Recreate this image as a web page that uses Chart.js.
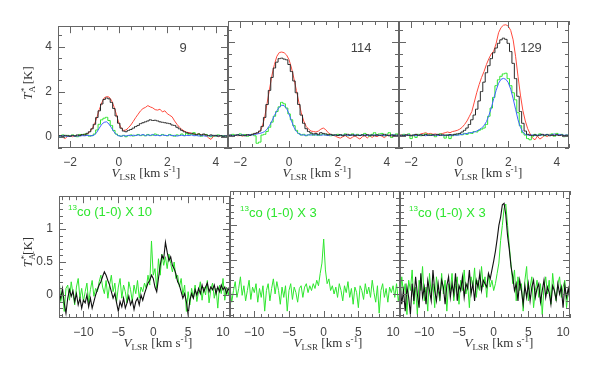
<!DOCTYPE html>
<html>
<head>
<meta charset="utf-8">
<script src="https://cdn.jsdelivr.net/npm/chart.js@4.4.1/dist/chart.umd.min.js"></script>
<style>
  body { margin: 0; background: #fff; width: 589px; height: 368px; position: relative; overflow: hidden; }
  canvas { position: absolute; }
  .txt { position: absolute; white-space: nowrap; color: #333; font-family: "Liberation Serif", serif; z-index: 5; }
  .ctr { transform: translate(-50%, -50%); }
  .rot { transform: translate(-50%, -50%) rotate(-90deg); }
  .ax { font-size: 13px; }
  .ax sub, .ax sup { font-size: 9px; }
  .num { font-family: "Liberation Sans", sans-serif; font-size: 13px; color: #444; }
  .co { font-family: "Liberation Sans", sans-serif; font-size: 13px; color: #2ee62e; transform: translateY(-50%); }
  .co sup { font-size: 8px; }
</style>
</head>
<body>
<script>
// channel axes
const topVelStart = -2.5, topVelStep = 0.1;
const botVelStart = -13.5, botVelStep = 0.25;

// tick labels
const topXTicks = [-2, 0, 2, 4];
const topYTicks = [0, 2, 4];
const botXTicks = [-10, -5, 0, 5, 10];
const botYTicks = [0, 0.5, 1];

const panelNumbers = ['9', '114', '129'];
const coLabels = ['co (1-0) X 10', 'co (1-0) X 3', 'co (1-0) X 3'];

// upper row spectra (T_A* in K)
const red9 = [0.02,0.05,-0.03,-0.08,0.03, 0.05,0.0,0.06,0.02,0.08, 0.05,0.1,0.12,0.2,0.35,
  0.55,0.85,1.2,1.5,1.72, 1.78,1.76,1.62,1.35,1.0, 0.62,0.38,0.28,0.3,0.4,
  0.52,0.68,0.85,1.0,1.15, 1.25,1.3,1.38,1.32,1.28, 1.2,1.18,1.22,1.1,1.15,
  1.02,0.95,0.88,0.7,0.55, 0.42,0.32,0.25,0.2,0.18, 0.15,0.12,0.1,0.14,0.08,
  0.1,0.05,-0.05,-0.12,0.02, 0.05,0.0,0.04,-0.02,0.03, 0.0];
const black9 = [0.03,0.05,0.02,0.06,0.04, 0.02,0.06,0.03,0.08,0.05, 0.1,0.08,0.15,0.22,0.35,
  0.55,0.85,1.15,1.45,1.65, 1.72,1.68,1.52,1.25,0.92, 0.6,0.38,0.25,0.22,0.28,
  0.32,0.38,0.45,0.5,0.58, 0.62,0.66,0.7,0.75,0.72, 0.73,0.7,0.66,0.64,0.62,
  0.6,0.58,0.52,0.5,0.42, 0.35,0.28,0.22,0.18,0.15, 0.15,0.12,0.1,0.12,0.08,
  0.12,0.08,0.05,0.08,0.04, 0.06,0.03,0.05,0.02,0.04, 0.02];
const green9 = [0.05,0.0,0.08,0.03,0.06, 0.02,0.08,0.05,0.0,0.1, 0.06,0.12,0.08,0.02,0.05,
  0.12,0.3,0.55,0.75,0.82, 0.86,0.72,0.5,0.28,0.12, 0.05,0.02,0.06,0.0,0.05,
  0.08,0.03,0.06,0.1,0.05, 0.08,0.04,0.1,0.05,0.07, 0.12,0.08,0.05,0.1,0.06,
  0.04,0.1,0.06,0.02,0.08, 0.06,0.12,0.05,0.15,0.08, 0.1,0.18,0.05,0.12,0.02,
  0.08,0.1,0.04,0.0,0.06, 0.02,0.08,0.03,0.05,0.0, 0.04];
const blue9 = [0.04,0.02,0.05,0.03,0.01, 0.03,0.05,0.02,0.04,0.03, 0.05,0.04,0.06,0.05,0.04,
  0.08,0.2,0.38,0.55,0.64, 0.66,0.56,0.4,0.22,0.1, 0.04,0.02,0.05,0.03,0.06,
  0.04,0.07,0.05,0.08,0.06, 0.1,0.05,0.08,0.06,0.1, 0.05,0.07,0.04,0.08,0.06,
  0.05,0.08,0.04,0.06,0.03, 0.05,0.07,0.04,0.06,0.05, 0.08,0.04,0.06,0.03,0.05,
  0.04,0.02,0.05,0.03,0.06, 0.04,0.03,0.05,0.02,0.04, 0.03];

const red114 = [0.0,0.03,-0.02,0.05,0.02, 0.04,0.0,0.06,0.03,0.05, 0.08,0.1,0.12,0.2,0.4,
  0.8,1.4,2.0,2.6,3.05, 3.4,3.56,3.58,3.55,3.45, 3.25,2.9,2.45,1.95,1.45,
  1.0,0.65,0.42,0.3,0.22, 0.2,0.18,0.22,0.3,0.35, 0.28,0.15,0.08,0.05,0.0,
  -0.05,-0.08,-0.02,0.03,-0.05, -0.1,-0.04,0.02,-0.06,-0.12, -0.02,0.04,-0.08,0.02,-0.05,
  0.03,-0.02,0.05,0.0,-0.06, 0.02,0.06,-0.03,0.04,0.0, 0.02];
const black114 = [0.02,0.05,0.0,0.04,0.06, 0.03,0.05,0.02,0.07,0.04, 0.08,0.12,0.15,0.22,0.42,
  0.8,1.35,1.95,2.5,2.9, 3.15,3.3,3.32,3.28,3.25, 3.05,2.75,2.35,1.85,1.35,
  0.9,0.55,0.32,0.2,0.14, 0.1,0.12,0.08,0.15,0.12, 0.1,0.06,0.08,0.04,0.06,
  0.03,0.07,0.02,0.05,0.08, 0.04,0.06,0.02,0.05,0.03, 0.06,0.02,0.07,0.04,0.05,
  0.02,0.06,0.03,0.05,0.08, 0.04,0.02,0.06,0.03,0.05, 0.03];
const green114 = [0.05,0.02,0.08,0.04,0.06, 0.1,0.03,0.07,0.0,0.05, 0.08,0.02,-0.3,-0.25,0.05,
  0.08,0.2,0.38,0.6,0.85, 1.05,1.25,1.44,1.38,1.2, 0.95,0.7,0.45,0.25,0.12,
  0.05,0.08,0.02,0.06,0.1, 0.04,0.08,0.03,0.06,0.1, 0.05,0.08,0.02,0.06,0.04,
  0.08,0.03,0.05,0.1,0.02, 0.06,0.1,0.04,0.08,0.03, 0.07,0.12,0.05,0.0,0.08,
  0.15,0.05,0.1,0.12,0.02, 0.08,0.15,-0.05,0.06,0.1, 0.04];
const blue114 = [0.03,0.05,0.02,0.04,0.06, 0.04,0.06,0.03,0.05,0.07, 0.05,0.08,0.1,0.12,0.15,
  0.2,0.3,0.45,0.65,0.88, 1.08,1.24,1.32,1.3,1.18, 0.95,0.65,0.38,0.2,0.1,
  0.06,0.05,0.04,0.06,0.05, 0.07,0.05,0.06,0.04,0.06, 0.05,0.03,0.06,0.04,0.05,
  0.03,0.05,0.04,0.06,0.03, 0.05,0.04,0.06,0.03,0.05, 0.04,0.06,0.03,0.05,0.04,
  0.06,0.03,0.05,0.04,0.02, 0.05,0.03,0.04,0.06,0.03, 0.04];

const red129 = [0.02,0.05,0.0,0.06,0.03, 0.05,0.02,0.08,0.04,0.1, 0.12,0.15,0.1,0.12,0.08,
  0.1,0.06,0.1,0.12,0.15, 0.18,0.15,0.2,0.22,0.25, 0.3,0.38,0.5,0.65,0.85,
  1.05,1.45,1.85,2.2,2.5, 2.75,3.05,3.3,3.5,3.62, 3.95,4.4,4.62,4.72,4.74,
  4.68,4.5,4.1,3.4,2.55, 1.75,1.1,0.65,0.32,0.1, -0.08,-0.15,0.0,-0.12,-0.05,
  0.05,-0.02,0.08,0.02,0.05, 0.08,0.03,0.06,0.0,0.04, 0.02];
const black129 = [0.03,0.05,0.02,0.06,0.04, 0.02,0.05,0.08,0.04,0.06, 0.03,0.07,0.05,0.04,0.06,
  0.05,0.08,0.04,0.06,0.05, 0.04,0.07,0.05,0.08,0.1, 0.12,0.18,0.25,0.35,0.5,
  0.7,0.9,1.15,1.5,1.9, 2.3,2.7,3.0,3.3,3.55, 3.75,3.95,4.1,4.17,4.12,
  3.95,3.6,3.1,2.45,1.7, 1.05,0.55,0.22,0.08,0.05, 0.03,0.06,0.02,0.05,0.08,
  0.04,0.06,0.02,0.05,0.03, 0.06,0.03,0.05,0.02,0.04, 0.03];
const green129 = [0.05,0.0,0.08,0.03,0.1, -0.1,0.05,-0.05,0.08,0.02, 0.06,0.1,0.03,0.08,0.05,
  -0.02,0.05,0.1,0.04,-0.08, 0.06,-0.1,0.02,0.08,0.05, 0.1,0.06,0.12,0.08,0.15,
  0.12,0.2,0.18,0.25,0.3, 0.35,0.5,0.85,1.2,1.65, 2.15,2.4,2.55,2.65,2.68,
  2.45,2.15,1.85,1.55,1.0, 0.45,0.15,0.05,-0.1,-0.15, 0.0,0.08,0.03,0.1,0.05,
  0.02,0.08,0.05,0.1,0.0, 0.12,0.05,0.08,-0.02,0.05, 0.03];
const blue129 = [0.04,0.02,0.05,0.03,0.06, 0.03,0.05,0.02,0.04,0.06, 0.04,0.02,0.05,0.03,0.04,
  0.06,0.03,0.05,0.04,0.02, 0.05,0.03,0.06,0.04,0.05, 0.06,0.08,0.1,0.12,0.14,
  0.16,0.18,0.22,0.28,0.35, 0.45,0.62,0.88,1.2,1.6, 1.95,2.25,2.42,2.46,2.42,
  2.28,2.0,1.6,1.15,0.7, 0.38,0.18,0.08,0.05,0.04, 0.06,0.03,0.05,0.04,0.06,
  0.05,0.08,0.04,0.06,0.1, 0.05,0.08,0.06,0.04,0.05, 0.04];

// lower row: 13CO (1-0) scaled (green) and comparison line (black)
const lowBlack9 = [0.05,-0.05,0.1,-0.12,-0.28, -0.05,0.08,-0.02,0.06,-0.1, 0.02,-0.15,-0.05,-0.2,-0.08,
  -0.12,0.0,-0.18,-0.05,-0.2, -0.1,0.0,0.08,0.15,0.2, 0.28,0.35,0.3,0.22,0.15,
  0.05,-0.05,0.02,-0.12,-0.25, -0.1,-0.18,-0.05,-0.2,-0.12, -0.02,-0.15,-0.08,-0.22,-0.1,
  -0.05,-0.15,0.0,-0.08,0.02, 0.1,0.18,0.22,0.3,0.25, 0.12,0.05,0.25,0.45,0.6,
  0.55,0.8,0.65,0.52,0.58, 0.45,0.4,0.32,0.2,0.15, 0.05,-0.05,0.02,-0.1,-0.3,
  -0.08,0.02,-0.05,0.08,0.0, 0.1,0.02,0.15,0.05,0.12, 0.18,0.05,0.12,0.08,0.15,
  0.02,0.12,0.05,0.15,0.08, 0.12,0.02,0.1,0.05];
const lowGreen9 = [0.28,-0.1,0.05,-0.25,0.1, 0.15,-0.08,0.2,0.02,-0.15, 0.12,0.25,-0.05,0.1,-0.1,
  0.05,0.18,-0.12,0.08,0.22, -0.02,0.1,0.05,0.2,0.3, 0.12,0.02,0.22,-0.05,0.15,
  0.3,0.05,0.18,-0.1,0.12, 0.25,-0.05,0.15,0.05,-0.12, 0.2,0.08,-0.1,0.15,0.02,
  0.22,-0.05,0.12,0.05,0.18, 0.1,0.3,0.15,0.82,0.3, 0.4,0.1,0.55,0.3,0.62,
  0.45,0.58,0.4,0.62,0.48, 0.35,0.5,0.25,0.3,0.12, 0.25,0.0,0.15,-0.25,0.05,
  -0.15,0.1,-0.05,0.15,-0.1, 0.05,0.2,-0.08,0.12,0.0, 0.22,-0.12,0.08,0.18,-0.05,
  0.1,-0.2,0.15,0.02,0.25, -0.08,0.12,0.0,0.15];
const lowGreen114 = [0.1,-0.12,0.05,0.18,-0.05, 0.08,0.25,-0.02,0.12,-0.1, 0.05,0.2,-0.08,0.1,0.02,
  0.15,-0.12,0.08,-0.05,0.12, -0.25,0.05,0.15,-0.1,0.08, 0.22,0.0,0.18,0.05,-0.15,
  0.1,-0.05,0.12,-0.25,0.05, 0.15,-0.08,0.1,0.02,-0.12, 0.08,0.12,-0.05,0.1,0.15,
  0.02,0.12,0.05,0.15,0.08, 0.2,0.12,0.3,0.45,0.8, 0.35,0.15,0.22,0.05,0.12,
  0.0,0.1,-0.05,0.15,0.05, -0.1,0.12,0.02,0.18,-0.05, 0.08,-0.15,0.1,0.02,-0.2,
  0.12,0.05,-0.08,0.15,0.0, 0.1,-0.05,0.2,0.02,-0.12, 0.12,-0.28,0.05,0.15,-0.05,
  0.08,-0.12,0.1,0.02,0.12, -0.05,0.15,-0.1,0.05];
const lowBlack129 = [0.2,-0.15,0.05,-0.25,0.1, -0.05,-0.3,0.15,-0.1,0.25, 0.0,-0.2,0.3,-0.05,0.1,
  -0.15,0.2,0.05,-0.1,0.35, 0.05,-0.1,0.15,-0.05,0.2, 0.1,-0.15,0.12,0.25,-0.05,
  0.15,0.0,0.3,-0.1,0.12, 0.05,0.25,-0.05,0.15,0.08, 0.35,0.0,0.15,-0.1,0.2,
  0.1,0.3,0.05,0.2,0.15, 0.1,0.3,0.22,0.35,0.48, 0.62,0.8,1.0,1.12,1.3,
  1.32,1.15,0.85,0.65,0.4, 0.25,0.05,0.15,-0.1,0.2, 0.05,-0.15,0.12,-0.05,0.15,
  -0.1,0.1,0.2,-0.05,0.08, 0.15,-0.12,0.05,0.2,-0.05, 0.1,0.02,-0.15,0.12,0.05,
  -0.08,0.15,0.0,0.1,-0.2, 0.12,-0.05,0.08,-0.1];
const lowGreen129 = [-0.1,0.25,0.0,0.15,-0.3, 0.2,0.05,0.35,-0.15,0.1, -0.3,0.2,0.05,0.4,-0.1,
  0.1,-0.25,0.3,0.0,0.15, -0.2,0.25,0.05,-0.1,0.3, 0.0,0.2,-0.25,0.15,0.05,
  0.3,-0.1,0.12,0.25,-0.15, 0.2,0.05,0.35,0.0,0.15, -0.2,0.25,0.1,0.38,-0.05,
  0.2,0.05,0.4,0.1,0.25, -0.05,0.3,0.1,0.2,0.05, 0.15,0.3,0.45,0.78,1.0,
  1.25,1.31,1.0,0.7,0.43, 0.15,0.35,-0.1,0.25,0.05, 0.15,-0.25,0.2,0.4,-0.1,
  0.1,0.25,-0.2,0.05,0.2, -0.05,0.15,-0.3,0.1,0.25, 0.0,0.2,-0.15,0.3,0.05,
  -0.1,0.15,0.25,-0.05,0.1, 0.2,-0.2,0.05,0.15];

const RED = '#ff4a3d', BLACK = '#2a2a2a', GREEN = '#2ee62e', BLUE = '#3f63ff';

// box with inward ticks on all four sides
const boxTicks = {
  id: 'boxTicks',
  afterDatasetsDraw(chart, args, o) {
    const { ctx, chartArea: a, scales: { x, y } } = chart;
    ctx.save();
    ctx.strokeStyle = '#666';
    ctx.lineWidth = 1;
    ctx.strokeRect(Math.round(a.left) + 0.5, Math.round(a.top) + 0.5, Math.round(a.width) - 1, Math.round(a.height) - 1);
    ctx.beginPath();
    const ratioX = Math.round(o.xMajor / o.xMinor), ratioY = Math.round(o.yMajor / o.yMinor);
    for (let k = Math.ceil(x.min / o.xMinor); k * o.xMinor <= x.max + 1e-9; k++) {
      const px = Math.round(x.getPixelForValue(k * o.xMinor)) + 0.5;
      const len = k % ratioX === 0 ? 7 : 4;
      ctx.moveTo(px, a.bottom); ctx.lineTo(px, a.bottom - len);
      ctx.moveTo(px, a.top); ctx.lineTo(px, a.top + len);
    }
    for (let k = Math.ceil(y.min / o.yMinor); k * o.yMinor <= y.max + 1e-9; k++) {
      const py = Math.round(y.getPixelForValue(k * o.yMinor)) + 0.5;
      const len = k % ratioY === 0 ? 7 : 4;
      ctx.moveTo(a.left, py); ctx.lineTo(a.left + len, py);
      ctx.moveTo(a.right, py); ctx.lineTo(a.right - len, py);
    }
    ctx.stroke();
    ctx.restore();
  }
};

const fmt = v => (v < 0 ? '\u2212' + Math.abs(v) : String(v));
const tickFont = { family: 'Liberation Sans', size: 12 };

function makePanel(p) {
  const padL = 30, padR = 8, padT = 8, padB = 24;
  const cv = document.createElement('canvas');
  cv.width = p.w + padL + padR;
  cv.height = p.h + padT + padB;
  cv.style.left = (p.x - padL) + 'px';
  cv.style.top = (p.y - padT) + 'px';
  document.body.appendChild(cv);
  new Chart(cv.getContext('2d'), {
    type: 'line',
    data: {
      datasets: p.series.map(s => ({
        data: s.values.map((v, i) => ({ x: p.v0 + i * p.dv, y: v })),
        borderColor: s.color,
        borderWidth: s.width || 1,
        pointRadius: 0,
        stepped: s.stepped ? 'middle' : false,
        tension: 0
      }))
    },
    options: {
      responsive: false,
      animation: false,
      events: [],
      layout: { padding: { top: padT, right: padR, left: 0, bottom: 0 } },
      plugins: { legend: { display: false }, tooltip: { enabled: false }, boxTicks: p.ticks },
      scales: {
        x: {
          type: 'linear', min: p.xMin, max: p.xMax,
          grid: { display: false, drawTicks: false }, border: { display: false },
          afterBuildTicks: s => { s.ticks = p.xTicks.map(v => ({ value: v })); },
          afterFit: s => { s.height = padB; },
          ticks: { padding: 7, autoSkip: false, maxRotation: 0, color: '#444',
                   font: tickFont, callback: fmt }
        },
        y: {
          type: 'linear', min: p.yMin, max: p.yMax,
          grid: { display: false, drawTicks: false }, border: { display: false },
          afterBuildTicks: s => { s.ticks = p.yTicks.map(v => ({ value: v })); },
          afterFit: s => { s.width = padL; },
          ticks: { display: p.showY, padding: 6, autoSkip: false, color: '#444',
                   font: tickFont, callback: fmt }
        }
      }
    },
    plugins: [boxTicks]
  });
}

const topSets = [[red9, black9, green9, blue9], [red114, black114, green114, blue114], [red129, black129, green129, blue129]];
const topX = [58, 228, 399], topW = [170, 171, 170];
topSets.forEach((set, i) => makePanel({
  x: topX[i], y: 21, w: topW[i], h: 127,
  v0: topVelStart, dv: topVelStep, xMin: -2.5, xMax: 4.5, yMin: -0.5, yMax: 4.9,
  xTicks: topXTicks, yTicks: topYTicks, showY: i === 0,
  ticks: { xMinor: 0.5, xMajor: 2, yMinor: 0.5, yMajor: 2 },
  series: [
    { values: set[1], color: BLACK, stepped: true },
    { values: set[3], color: BLUE },
    { values: set[2], color: GREEN, stepped: true },
    { values: set[0], color: RED }
  ]
}));

const botSets = [[lowBlack9, lowGreen9], [null, lowGreen114], [lowBlack129, lowGreen129]];
const botX = [59, 230, 400], botW = [171, 170, 170];
botSets.forEach((set, i) => makePanel({
  x: botX[i], y: 191, w: botW[i], h: 127,
  v0: botVelStart, dv: botVelStep, xMin: -13.5, xMax: 11, yMin: -0.35, yMax: 1.5,
  xTicks: botXTicks, yTicks: botYTicks, showY: i === 0,
  ticks: { xMinor: 1, xMajor: 5, yMinor: 0.1, yMajor: 0.5 },
  series: [
    set[0] ? { values: set[0], color: '#111', width: 1.1 } : null,
    { values: set[1], color: GREEN }
  ].filter(Boolean)
}));

// text labels
function addText(html, cls, left, top) {
  const d = document.createElement('div');
  d.className = 'txt ' + cls;
  d.innerHTML = html;
  d.style.left = left + 'px';
  d.style.top = top + 'px';
  document.body.appendChild(d);
}
const vTitle = '<i>V</i><sub>LSR</sub> [km s<sup>-1</sup>]';
[146, 317, 488].forEach(cx => addText(vTitle, 'ax ctr', cx, 173));
[158, 328, 499].forEach(cx => addText(vTitle, 'ax ctr', cx, 343));
addText('<i>T</i><sub>A</sub><sup style="margin-left:-6px">*</sup> [K]', 'ax rot', 28, 83);
addText('<i>T</i><sub>A</sub><sup style="margin-left:-6px">*</sup>[K]', 'ax rot', 28, 252);
[183, 361, 531].forEach((cx, i) => addText(panelNumbers[i], 'num ctr', cx, 47));
[68, 240, 409].forEach((lx, i) => addText('<sup>13</sup>' + coLabels[i], 'co', lx, i === 0 ? 211 : 212));
</script>
</body>
</html>
